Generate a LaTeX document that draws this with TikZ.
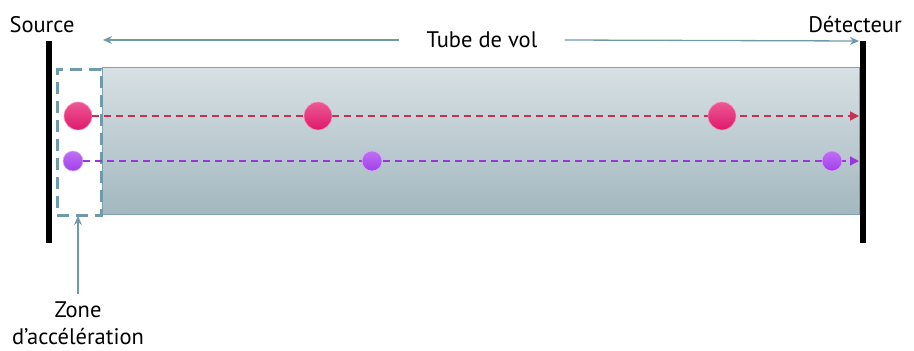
\documentclass[tikz,border=0pt]{standalone}
\usepackage{fontspec}
\setmainfont{PT Sans}
\usetikzlibrary{arrows.meta}
\definecolor{steel}{HTML}{6E9AAA}
\definecolor{tubetop}{HTML}{D8E1E4}
\definecolor{tubebot}{HTML}{A2B7BF}
\definecolor{tubeedge}{HTML}{7FA3AF}
\definecolor{redline}{HTML}{C7304F}
\definecolor{redtop}{HTML}{EC5894}
\definecolor{redbot}{HTML}{E0186C}
\definecolor{purpline}{HTML}{9A35E0}
\definecolor{purptop}{HTML}{C070F5}
\definecolor{purpbot}{HTML}{A040E8}
\tikzset{
  lbl/.style={font=\fontsize{22.5}{27}\selectfont, inner sep=0pt},
  bar/.style={line width=6pt, black},
  steelarrow/.style={draw=steel, line width=1.3pt, -{Stealth[length=9pt,width=8pt]}},
  redball/.style={circle, minimum size=28pt, inner sep=0pt, top color=redtop, bottom color=redbot, draw=redtop!60!white, line width=0.6pt},
  purpball/.style={circle, minimum size=20pt, inner sep=0pt, top color=purptop, bottom color=purpbot, draw=purptop!60!white, line width=0.6pt},
  redpath/.style={draw=redline, line width=1.5pt, dash pattern=on 7pt off 5pt, -{Triangle[length=9pt,width=9pt]}},
  purppath/.style={draw=purpline, line width=1.5pt, dash pattern=on 7pt off 5pt, -{Triangle[length=9pt,width=9pt]}},
}
\begin{document}
\begin{tikzpicture}[x=1pt,y=-1pt]
\useasboundingbox (0,0) rectangle (914,351);
% tube
\node[draw=tubeedge, line width=1.2pt, top color=tubetop, bottom color=tubebot, minimum width=757pt, minimum height=147pt, inner sep=0pt, anchor=north west] (tube) at (102,67) {};
% acceleration zone
\node[draw=steel, line width=2.5pt, dash pattern=on 12pt off 7pt, minimum width=44pt, minimum height=146pt, inner sep=0pt, anchor=north west] (zone) at (56,68) {};
% bars
\coordinate (s1) at (49,41); \coordinate (s2) at (49,243);
\coordinate (d1) at (863,41); \coordinate (d2) at (863,243);
\draw[bar] (s1) -- (s2);
\draw[bar] (d1) -- (d2);
% labels
\node[lbl] (source) at (42,25) {Source};
\node[lbl] (det) at (855,25) {Détecteur};
\node[lbl] (tdv) at (482,40) {Tube de vol};
\coordinate (tl) at (103,40);
\coordinate (tr) at (859,41);
\draw[steelarrow] (tdv.west) ++(-27pt,0) -- (tl);
\draw[steelarrow] (tdv.east) ++(27pt,0) -- (tr);
% particles
\coordinate (rend) at (859,116);
\coordinate (pend) at (859,161);
\node[redball] (r1) at (78,116) {};
\node[purpball] (p1) at (73,161) {};
\draw[redpath] (r1.east) -- (rend);
\draw[purppath] (p1.east) -- (pend);
\node[redball] (r2) at (318,116) {};
\node[redball] (r3) at (722,116) {};
\node[purpball] (p2) at (372,161) {};
\node[purpball] (p3) at (832,161) {};
% zone label
\node[lbl, align=center] (zl) at (78,323) {Zone\\d’accélération};
\coordinate (za) at (78,216);
\draw[steelarrow] (78,294) -- (za);
\end{tikzpicture}
\end{document}
